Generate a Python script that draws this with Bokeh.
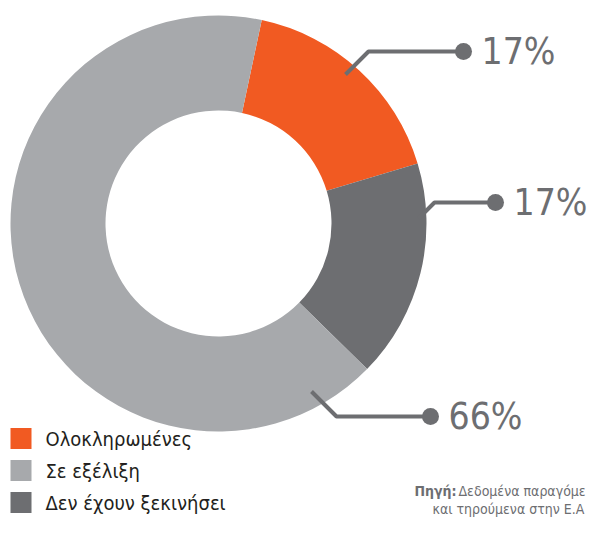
import math
from bokeh.plotting import figure
from bokeh.models import Range1d
from bokeh.core.properties import value
from bokeh.embed import file_html
from bokeh.resources import INLINE

# ---------------- data ----------------
categories = ["Ολοκληρωμένες", "Σε εξέλιξη", "Δεν έχουν ξεκινήσει"]
shares = [17, 66, 17]
pct_labels = ["17%", "66%", "17%"]
ring_order = [0, 2, 1]          # clockwise order around the ring
source_bold = "Πηγή:"
source_lines = ["Δεδομένα παραγόμε", "και τηρούμενα στην Ε.Α"]

# ---------------- style / layout ----------------
colors = ["#F15A22", "#A7A9AC", "#6D6E71"]
LINE = "#6D6E71"
FONT = "DejaVu Sans Condensed, Roboto, sans-serif"
W, H = 591, 520


def Y(v):
    # picture pixel row -> data y
    return H - v


cx, cy = 218, Y(223)
r_out, r_in = 208, 113
start_deg = 78.0

# leader lines in picture pixels: start, elbow, dot
leaders = {
    0: [(345, 74), (368, 51), (463, 51)],
    1: [(311, 391), (336, 416), (430, 416)],
    2: [(418, 218), (434, 202), (495, 202)],
}

p = figure(width=W, height=H, x_range=Range1d(0, W), y_range=Range1d(0, H),
           output_backend="svg", toolbar_location=None,
           x_axis_location=None, y_axis_location=None, min_border=0)
p.outline_line_color = None
p.grid.visible = False
p.background_fill_color = "white"

# ---- donut ----
cum = 0.0
for i in ring_order:
    a0 = start_deg - cum * 3.6
    a1 = a0 - shares[i] * 3.6
    p.annular_wedge(x=[cx], y=[cy], inner_radius=r_in, outer_radius=r_out,
                    start_angle=[math.radians(a1)], end_angle=[math.radians(a0)],
                    fill_color=colors[i], line_color=None)
    cum += shares[i]

# ---- leaders and labels ----
fs = 37
for i in range(len(categories)):
    pts = leaders[i]
    p.line([q[0] for q in pts], [Y(q[1]) for q in pts], line_color=LINE, line_width=4)
    dx, dy = pts[-1]
    p.scatter([dx], [Y(dy)], size=17, fill_color=LINE, line_color=None)
    p.text([dx + 18], [Y(dy)], text=[pct_labels[i]], text_font=value(FONT),
           text_font_size=value(f"{fs}px"), text_color=LINE,
           text_align="left", text_baseline="middle")

# ---- legend ----
row_y = [438, 470, 502]
for i, cat in enumerate(categories):
    p.rect([20.5], [Y(row_y[i])], width=21, height=21, fill_color=colors[i], line_color=None)
    p.text([45], [Y(row_y[i])], text=[cat], text_font=value(FONT),
           text_font_size=value("20px"), text_color="#231F20",
           text_align="left", text_baseline="middle")

# ---- source ----
p.text([414], [Y(490)], text=[source_bold], text_font=value(FONT),
       text_font_size=value("14px"), text_font_style="bold", text_color=LINE,
       text_align="left", text_baseline="middle")
p.text([458], [Y(490)], text=[source_lines[0]], text_font=value(FONT),
       text_font_size=value("14px"), text_color=LINE,
       text_align="left", text_baseline="middle")
p.text([432], [Y(508)], text=[source_lines[1]], text_font=value(FONT),
       text_font_size=value("14px"), text_color=LINE,
       text_align="left", text_baseline="middle")

open("out.html", "w").write(file_html(p, INLINE))
